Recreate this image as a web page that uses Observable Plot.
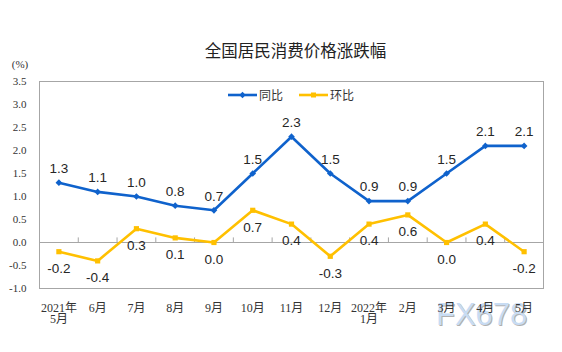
<!DOCTYPE html>
<html>
<head>
<meta charset="utf-8">
<script src="https://cdn.jsdelivr.net/npm/d3@7"></script>
<script src="https://cdn.jsdelivr.net/npm/@observablehq/plot@0.6"></script>
<style>
  html, body { margin: 0; padding: 0; background: #fff; }
  #wrap { position: relative; width: 562px; height: 352px; overflow: hidden; background: #fff; }
  #chart { position: relative; z-index: 1; }
  #legend { position: absolute; left: 0; top: 0; width: 562px; height: 352px; pointer-events: none; z-index: 2; }
  .lg { position: absolute; font: 12px "Noto Sans CJK SC", sans-serif; color: #333; line-height: 12px; white-space: nowrap; }
  #wm { position: absolute; z-index: 0; left: 436px; top: 300px; font: 31px "Liberation Sans", Arial, sans-serif; line-height: 30px;
        color: #c8dcf3; text-shadow: 1px 1px 0 #b0b0b0; letter-spacing: 0px; }
</style>
</head>
<body>
<div id="wrap">
  <div id="wm">FX678</div>
  <div id="chart"></div>
  <div id="legend"></div>
</div>
<script>
const title = "全国居民消费价格涨跌幅";
const unitLabel = "(%)";
const categories = ["2021年\n5月", "6月", "7月", "8月", "9月", "10月", "11月", "12月", "2022年\n1月", "2月", "3月", "4月", "5月"];
const seriesNames = ["同比", "环比"];
const yoy = [1.3, 1.1, 1.0, 0.8, 0.7, 1.5, 2.3, 1.5, 0.9, 0.9, 1.5, 2.1, 2.1];
const mom = [-0.2, -0.4, 0.3, 0.1, 0.0, 0.7, 0.4, -0.3, 0.4, 0.6, 0.0, 0.4, -0.2];
const yTicks = [-1.0, -0.5, 0.0, 0.5, 1.0, 1.5, 2.0, 2.5, 3.0, 3.5];
const colors = {"同比": "#0f62cc", "环比": "#ffc000"};

const idx = categories.map((_, i) => i);
const yoyData = idx.map(i => ({i, v: yoy[i]}));
const momData = idx.map(i => ({i, v: mom[i]}));
const boundaries = idx.slice(0, -1).map(i => i + 0.5);

const serif = "'Liberation Serif', 'Times New Roman', 'Noto Sans CJK SC', serif";
const sans = "'Liberation Sans', Arial, sans-serif";
const fmt = d => d.toFixed(1);

const chart = Plot.plot({
  width: 562,
  height: 352,
  marginTop: 81,
  marginBottom: 64,
  marginLeft: 39,
  marginRight: 19,
  style: {background: "transparent", overflow: "visible"},
  x: {domain: [-0.5, categories.length - 0.5]},
  y: {domain: [yTicks[0], yTicks[yTicks.length - 1]]},
  marks: [
    Plot.frame({fill: "#fff"}),
    Plot.frame({stroke: "#a6a6a6"}),
    Plot.ruleY([0], {stroke: "#a6a6a6", strokeWidth: 1}),
    Plot.ruleX(boundaries, {x: d => d, y1: 0, y2: 0.1, stroke: "#a6a6a6"}),
    Plot.axisY({ticks: yTicks, tickSize: 0, tickPadding: 13, tickFormat: fmt,
                fontFamily: serif, fontSize: 11, fill: "#333", label: null}),
    Plot.axisX({ticks: idx, tickSize: 0, tickPadding: 15, tickFormat: i => categories[i],
                fontFamily: serif, fontSize: 12, fill: "#333", lineHeight: 0.97, label: null}),
    Plot.text([title], {frameAnchor: "top", dx: 4, dy: -30, text: d => d, lineAnchor: "middle",
                fontFamily: "'Noto Sans CJK SC', sans-serif", fontSize: 16.5, fill: "#222"}),
    Plot.text([unitLabel], {frameAnchor: "top-left", dx: -19.5, dy: -17, text: d => d, textAnchor: "middle",
                lineAnchor: "middle", fontFamily: serif, fontSize: 11, fill: "#333"}),
    Plot.line(momData, {x: "i", y: "v", stroke: colors["环比"], strokeWidth: 2.6}),
    Plot.dot(momData, {x: "i", y: "v", symbol: "square2", r: 3.3, fill: colors["环比"], stroke: "none"}),
    Plot.line(yoyData, {x: "i", y: "v", stroke: colors["同比"], strokeWidth: 2.6}),
    Plot.dot(yoyData, {x: "i", y: "v", symbol: "diamond2", r: 3.0, fill: colors["同比"], stroke: "none"}),
    Plot.text(yoyData, {x: "i", y: "v", text: d => fmt(d.v), dy: -14, lineAnchor: "middle",
                fontFamily: sans, fontSize: 13.5, fill: "#262626"}),
    Plot.text(momData, {x: "i", y: "v", text: d => fmt(d.v), dy: 17, lineAnchor: "middle",
                fontFamily: sans, fontSize: 13.5, fill: "#262626"})
  ]
});
document.getElementById("chart").appendChild(chart);

// Legend (inside the plot frame, top centre)
const legend = document.getElementById("legend");
const items = [
  {name: seriesNames[0], color: colors["同比"], left: 228, shape: "diamond"},
  {name: seriesNames[1], color: colors["环比"], left: 299, shape: "square"}
];
for (const it of items) {
  const svgNS = "http://www.w3.org/2000/svg";
  const s = document.createElementNS(svgNS, "svg");
  s.setAttribute("width", 30); s.setAttribute("height", 10);
  s.style.position = "absolute"; s.style.left = it.left + "px"; s.style.top = "90px";
  const ln = document.createElementNS(svgNS, "line");
  ln.setAttribute("x1", 0); ln.setAttribute("x2", 29); ln.setAttribute("y1", 5); ln.setAttribute("y2", 5);
  ln.setAttribute("stroke", it.color); ln.setAttribute("stroke-width", 2.6);
  s.appendChild(ln);
  const m = document.createElementNS(svgNS, "path");
  m.setAttribute("d", it.shape === "diamond" ? "M14.5,1.8L17.7,5L14.5,8.2L11.3,5Z" : "M12,2.5H17V7.5H12Z");
  m.setAttribute("fill", it.color);
  s.appendChild(m);
  legend.appendChild(s);
  const t = document.createElement("div");
  t.className = "lg"; t.textContent = it.name;
  t.style.left = (it.left + 31) + "px"; t.style.top = "89px";
  legend.appendChild(t);
}
</script>
</body>
</html>
